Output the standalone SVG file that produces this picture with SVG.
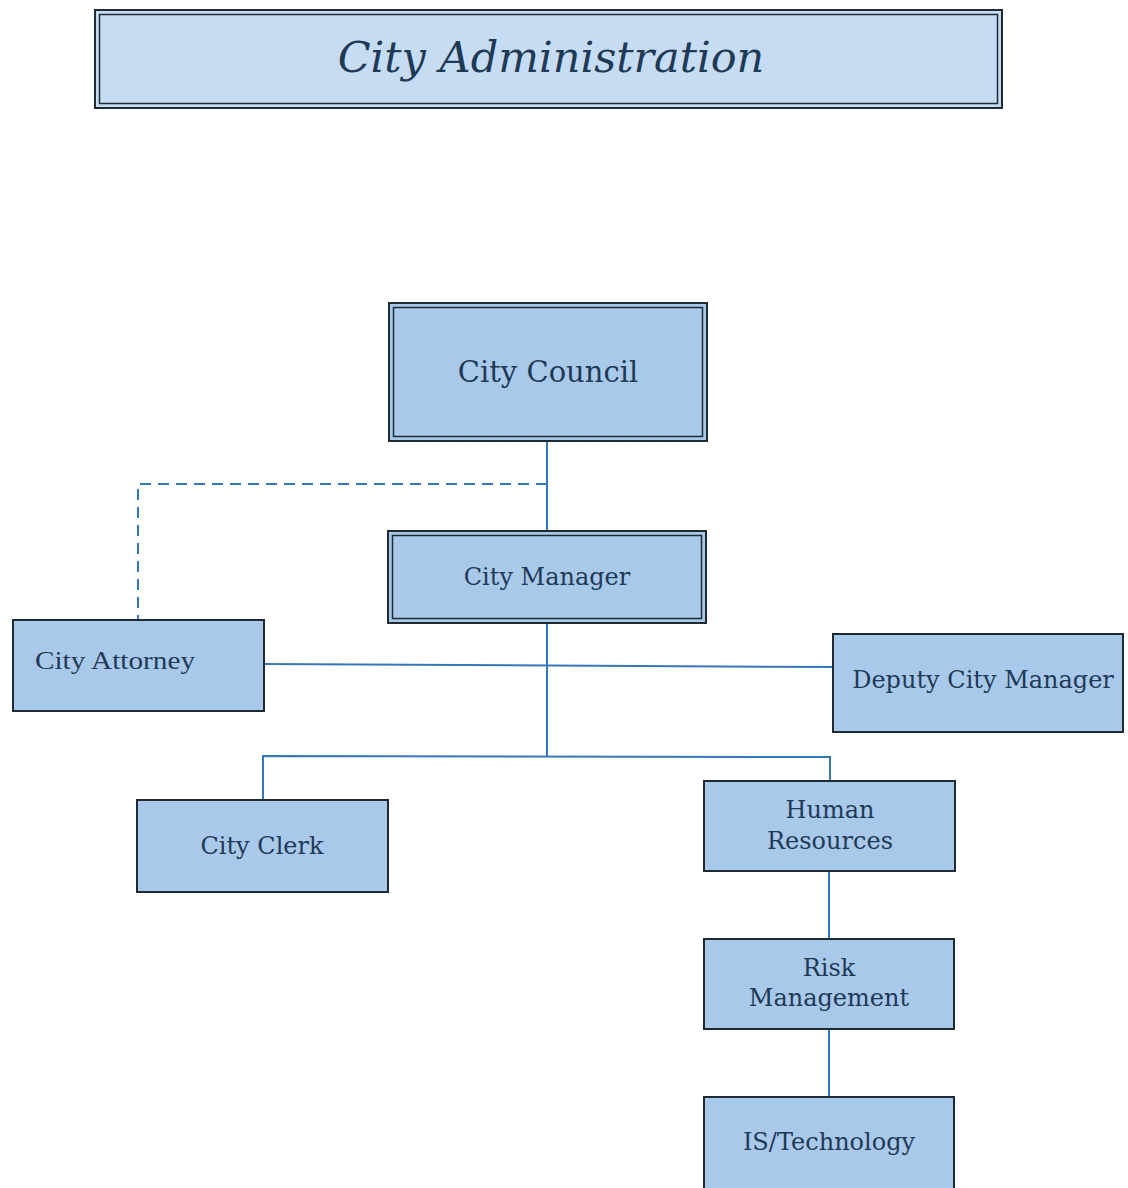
<svg xmlns="http://www.w3.org/2000/svg" width="1128" height="1188" viewBox="0 0 1128 1188">
  <style>
    .box { fill: #a9c9ea; stroke: #1f2a33; stroke-width: 2; }
    .inner { fill: none; stroke: #1f2a33; stroke-width: 1.5; }
    .lbl { font-family: "DejaVu Serif", "Liberation Serif", serif; fill: #1f3a56; text-anchor: middle; font-size: 24px; }
    .narrow { font-family: "Liberation Serif", serif; fill: #1f3a56; }
    .link { stroke: #3577b8; stroke-width: 2; fill: none; }
    .dash { stroke: #3577b8; stroke-width: 2; fill: none; stroke-dasharray: 11 7; }
  </style>
  <rect width="1128" height="1188" fill="#ffffff"/>

  <!-- connectors -->
  <g id="connectors">
    <line class="link" x1="547" y1="441" x2="547" y2="531"/>
    <polyline class="dash" points="547,484 138,484 138,620"/>
    <line class="link" x1="547" y1="623" x2="547" y2="756"/>
    <line class="link" x1="264" y1="664" x2="833" y2="667"/>
    <polyline class="link" points="263,800 263,756 830,757 830,781"/>
    <line class="link" x1="829" y1="871" x2="829" y2="939"/>
    <line class="link" x1="829" y1="1029" x2="829" y2="1097"/>
  </g>

  <!-- title banner -->
  <g id="title">
    <rect x="95" y="10" width="907" height="98" fill="#c6dcf2" stroke="#1f2a33" stroke-width="2"/>
    <rect class="inner" x="99.5" y="14.5" width="898" height="89"/>
    <text x="551" y="72" class="lbl" style="font-size:43px" font-style="italic">City Administration</text>
  </g>

  <g id="city-council">
    <rect class="box" x="389" y="303" width="318" height="138"/>
    <rect class="inner" x="393.5" y="307.5" width="309" height="129"/>
    <text x="548" y="382" class="lbl" style="font-size:29px">City Council</text>
  </g>

  <g id="city-manager">
    <rect class="box" x="388" y="531" width="318" height="92"/>
    <rect class="inner" x="392.5" y="535.5" width="309" height="83"/>
    <text x="547" y="585" class="lbl">City Manager</text>
  </g>

  <g id="city-attorney">
    <rect class="box" x="13" y="620" width="251" height="91"/>
    <text x="35" y="669" class="narrow" font-size="26" textLength="160" lengthAdjust="spacingAndGlyphs">City Attorney</text>
  </g>

  <g id="deputy-city-manager">
    <rect class="box" x="833" y="634" width="290" height="98"/>
    <text x="983" y="688" class="lbl">Deputy City Manager</text>
  </g>

  <g id="city-clerk">
    <rect class="box" x="137" y="800" width="251" height="92"/>
    <text x="262" y="854" class="lbl">City Clerk</text>
  </g>

  <g id="human-resources">
    <rect class="box" x="704" y="781" width="251" height="90"/>
    <text x="830" y="818" class="lbl">Human</text>
    <text x="830" y="849" class="lbl">Resources</text>
  </g>

  <g id="risk-management">
    <rect class="box" x="704" y="939" width="250" height="90"/>
    <text x="829" y="976" class="lbl">Risk</text>
    <text x="829" y="1006" class="lbl">Management</text>
  </g>

  <g id="is-technology">
    <rect class="box" x="704" y="1097" width="250" height="95"/>
    <text x="829" y="1150" class="lbl">IS/Technology</text>
  </g>
</svg>
